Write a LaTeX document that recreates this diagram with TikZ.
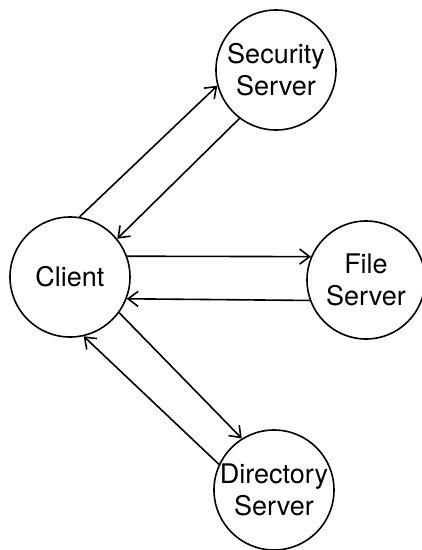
\documentclass[tikz,border=0pt]{standalone}
\usepackage{fontspec}
\setmainfont{TeX Gyre Heros}
\usetikzlibrary{positioning,arrows.meta}

\begin{document}
\begin{tikzpicture}[
    host/.style={draw, circle, line width=1.6pt, minimum size=120pt, inner sep=0pt,
      align=center, font=\fontsize{27}{32}\selectfont},
    msg/.style={line width=1.6pt, -{Straight Barb[length=10pt,width=15pt,line width=1.6pt]}}
  ]
  \useasboundingbox (-70pt,-273pt) rectangle (352pt,277pt);
  \node[host] (Client) {Client};
  \node[host, on grid, above right=207pt and 206pt of Client] (Security) {Security\\Server};
  \node[host, on grid, below right=3pt and 296pt of Client, minimum size=118pt] (File) {File\\Server};
  \node[host, on grid, below right=213pt and 204pt of Client] (Directory) {Directory\\Server};
  \draw[msg] (Client.81) to (Security.195);
  \draw[msg] (Security.233) to (Client.39);
  \draw[msg] (Client.20) to (File.157);
  \draw[msg] (File.200) to (Client.-21);
  \draw[msg] (Client.-36) to (Directory.122);
  \draw[msg] (Directory.155) to (Client.-77);
\end{tikzpicture}
\end{document}
